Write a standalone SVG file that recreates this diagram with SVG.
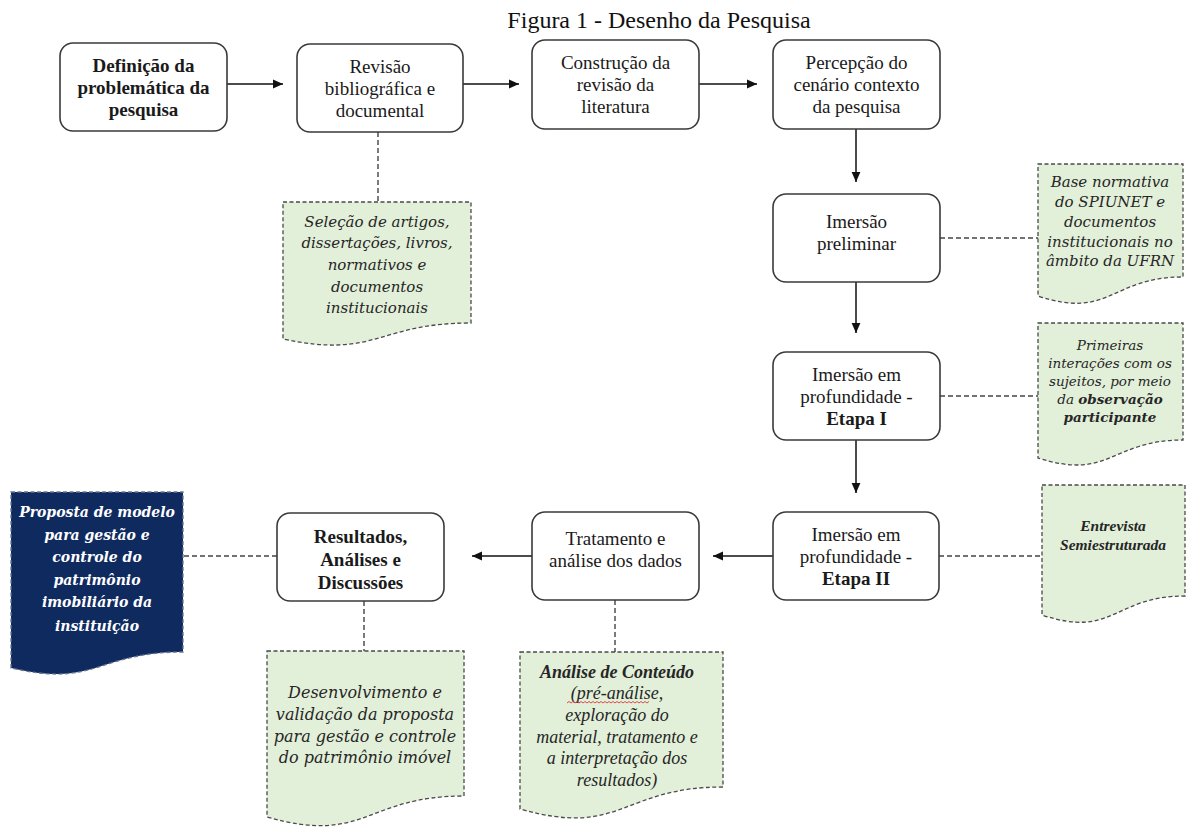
<svg xmlns="http://www.w3.org/2000/svg" width="1187" height="834" viewBox="0 0 1187 834">
  <defs>
    <marker id="ah" viewBox="0 0 10 10" refX="10" refY="5" markerWidth="10" markerHeight="10" markerUnits="userSpaceOnUse" orient="auto">
      <path d="M0,0.6 L10,5 L0,9.4 Z" fill="#111"/>
    </marker>
    <style>
      .box { fill: #fff; stroke: #3a3a3a; stroke-width: 1.6; }
      .doc { fill: #e2efd9; stroke: #4a4a4a; stroke-width: 1.3; stroke-dasharray: 4 2.5; }
      .docdark { fill: #0f2a5f; stroke: #6a7590; stroke-width: 1.3; stroke-dasharray: 4 2.5; }
      .flow { fill: none; stroke: #111; stroke-width: 1.5; marker-end: url(#ah); }
      .link { fill: none; stroke: #444; stroke-width: 1.4; stroke-dasharray: 5 3; }
      .t { font-family: "Liberation Serif", "Times New Roman", serif; font-size: 19px; fill: #1a1a1a; text-anchor: middle; }
      .b { font-weight: bold; }
      .di { font-family: "DejaVu Serif", serif; font-style: italic; font-size: 15px; fill: #262626; text-anchor: middle; }
      .ti { font-family: "Liberation Serif", "Times New Roman", serif; font-style: italic; font-size: 18px; fill: #262626; text-anchor: middle; }
      .title { font-family: "Liberation Serif", "Times New Roman", serif; font-size: 24px; fill: #111; text-anchor: middle; }
    </style>
  </defs>

  <rect width="1187" height="834" fill="#fff"/>

  <text class="title" x="659" y="28">Figura 1 - Desenho da Pesquisa</text>

  <!-- connectors -->
  <g id="connectors">
    <path class="flow" d="M227,84 H283"/>
    <path class="flow" d="M463,84 H519"/>
    <path class="flow" d="M699,84 H757"/>
    <path class="flow" d="M856,129 V182"/>
    <path class="flow" d="M856,282 V333"/>
    <path class="flow" d="M856,440 V493"/>
    <path class="flow" d="M773,556 H713"/>
    <path class="flow" d="M532,556 H472"/>

    <path class="link" d="M378,132 V202"/>
    <path class="link" d="M940,238 H1038"/>
    <path class="link" d="M940,396 H1038"/>
    <path class="link" d="M939,556 H1042"/>
    <path class="link" d="M615,600 V652"/>
    <path class="link" d="M364,601 V651"/>
    <path class="link" d="M277,556 H183"/>
  </g>

  <!-- process steps -->
  <g id="definicao">
    <rect class="box" x="60" y="43" width="167" height="88" rx="13"/>
    <text class="t b" x="143.5" y="72">Definição da</text>
    <text class="t b" x="143.5" y="94">problemática da</text>
    <text class="t b" x="143.5" y="116">pesquisa</text>
  </g>

  <g id="revisao">
    <rect class="box" x="297" y="44" width="166" height="88" rx="13"/>
    <text class="t" x="380" y="73">Revisão</text>
    <text class="t" x="380" y="95">bibliográfica e</text>
    <text class="t" x="380" y="117">documental</text>
  </g>

  <g id="construcao">
    <rect class="box" x="532" y="40" width="167" height="89" rx="13"/>
    <text class="t" x="615.5" y="69">Construção da</text>
    <text class="t" x="615.5" y="91">revisão da</text>
    <text class="t" x="615.5" y="113">literatura</text>
  </g>

  <g id="percepcao">
    <rect class="box" x="773" y="40" width="167" height="89" rx="13"/>
    <text class="t" x="856.5" y="69">Percepção do</text>
    <text class="t" x="856.5" y="91">cenário contexto</text>
    <text class="t" x="856.5" y="113">da pesquisa</text>
  </g>

  <g id="imersao-preliminar">
    <rect class="box" x="773" y="194" width="167" height="88" rx="13"/>
    <text class="t" x="856.5" y="228">Imersão</text>
    <text class="t" x="856.5" y="250">preliminar</text>
  </g>

  <g id="imersao-etapa1">
    <rect class="box" x="773" y="352" width="167" height="88" rx="13"/>
    <text class="t" x="856.5" y="381">Imersão em</text>
    <text class="t" x="856.5" y="403">profundidade -</text>
    <text class="t b" x="856.5" y="425">Etapa I</text>
  </g>

  <g id="imersao-etapa2">
    <rect class="box" x="773" y="512" width="166" height="88" rx="13"/>
    <text class="t" x="856" y="541">Imersão em</text>
    <text class="t" x="856" y="563">profundidade -</text>
    <text class="t b" x="856" y="585">Etapa II</text>
  </g>

  <g id="tratamento">
    <rect class="box" x="532" y="512" width="167" height="88" rx="13"/>
    <text class="t" x="615.5" y="545">Tratamento e</text>
    <text class="t" x="615.5" y="567">análise dos dados</text>
  </g>

  <g id="resultados">
    <rect class="box" x="277" y="513" width="167" height="88" rx="13"/>
    <text class="t b" x="360.5" y="543">Resultados,</text>
    <text class="t b" x="360.5" y="566">Análises e</text>
    <text class="t b" x="360.5" y="589">Discussões</text>
  </g>

  <!-- supporting documents -->
  <g id="doc-selecao">
    <path class="doc" d="M283,202 H471 V323 C377,323 377,359 283,339 Z"/>
    <text class="di" x="377" y="227">Seleção de artigos,</text>
    <text class="di" x="377" y="248">dissertações, livros,</text>
    <text class="di" x="377" y="270">normativos e</text>
    <text class="di" x="377" y="292">documentos</text>
    <text class="di" x="377" y="313">institucionais</text>
  </g>

  <g id="doc-base-normativa">
    <path class="doc" d="M1038,164 H1183 V277 C1110.5,277 1110.5,320 1038,296 Z"/>
    <text class="di" x="1110" y="187">Base normativa</text>
    <text class="di" x="1110" y="207">do SPIUNET e</text>
    <text class="di" x="1110" y="227">documentos</text>
    <text class="di" x="1110" y="247">institucionais no</text>
    <text class="di" x="1110" y="266">âmbito da UFRN</text>
  </g>

  <g id="doc-primeiras-interacoes">
    <path class="doc" d="M1038,323 H1183 V440 C1110.5,440 1110.5,481 1038,458 Z"/>
    <text class="di" x="1110" y="350" style="font-size:13.5px">Primeiras</text>
    <text class="di" x="1110" y="368" style="font-size:13.5px">interações com os</text>
    <text class="di" x="1110" y="386" style="font-size:13.5px">sujeitos, por meio</text>
    <text class="di" x="1110" y="404" style="font-size:13.5px">da <tspan font-weight="bold">observação</tspan></text>
    <text class="di" x="1110" y="422" style="font-size:13.5px" font-weight="bold">participante</text>
  </g>

  <g id="doc-entrevista">
    <path class="doc" d="M1042,485 H1185 V596 C1113.5,596 1113.5,639 1042,615 Z"/>
    <text class="ti b" x="1113" y="531" style="font-size:15.5px">Entrevista</text>
    <text class="ti b" x="1113" y="550" style="font-size:15.5px">Semiestruturada</text>
  </g>

  <g id="doc-analise-conteudo">
    <path class="doc" d="M520,652 H723 V787 C621.5,787 621.5,838 520,809 Z"/>
    <text class="ti b" x="617" y="678">Análise de Conteúdo</text>
    <text class="ti" x="617" y="699">(pré-análise,</text>
    <path d="M567,703 l2,-1.5 l2,1.5 l2,-1.5 l2,1.5 l2,-1.5 l2,1.5 l2,-1.5 l2,1.5 l2,-1.5 l2,1.5 l2,-1.5 l2,1.5 l2,-1.5 l2,1.5 l2,-1.5 l2,1.5 l2,-1.5 l2,1.5 l2,-1.5 l2,1.5 l2,-1.5 l2,1.5 l2,-1.5 l2,1.5 l2,-1.5 l2,1.5 l2,-1.5 l2,1.5 l2,-1.5 l2,1.5 l2,-1.5 l2,1.5 l2,-1.5 l2,1.5 l2,-1.5 l2,1.5 l2,-1.5 l2,1.5 l2,-1.5 l2,1.5 l2,-1.5" fill="none" stroke="#d83a3a" stroke-width="0.9"/>
    <text class="ti" x="617" y="721">exploração do</text>
    <text class="ti" x="617" y="743">material, tratamento e</text>
    <text class="ti" x="617" y="764">a interpretação dos</text>
    <text class="ti" x="617" y="786">resultados)</text>
  </g>

  <g id="doc-desenvolvimento">
    <path class="doc" d="M267,651 H464 V796 C365.5,796 365.5,845 267,817 Z"/>
    <text class="di" x="365" y="698" style="font-size:16px">Desenvolvimento e</text>
    <text class="di" x="365" y="720" style="font-size:16px">validação da proposta</text>
    <text class="di" x="365" y="742" style="font-size:16px">para gestão e controle</text>
    <text class="di" x="365" y="763" style="font-size:16px">do patrimônio imóvel</text>
  </g>

  <g id="doc-proposta">
    <path class="docdark" d="M11,492 H183 V652 C97,652 97,688 11,668 Z"/>
    <text class="di" x="97" y="517" style="font-size:14px;fill:#fff" font-weight="bold">Proposta de modelo</text>
    <text class="di" x="97" y="540" style="font-size:14px;fill:#fff" font-weight="bold">para gestão e</text>
    <text class="di" x="97" y="562" style="font-size:14px;fill:#fff" font-weight="bold">controle do</text>
    <text class="di" x="97" y="585" style="font-size:14px;fill:#fff" font-weight="bold">patrimônio</text>
    <text class="di" x="97" y="607" style="font-size:14px;fill:#fff" font-weight="bold">imobiliário da</text>
    <text class="di" x="97" y="631" style="font-size:14px;fill:#fff" font-weight="bold">instituição</text>
  </g>
</svg>
